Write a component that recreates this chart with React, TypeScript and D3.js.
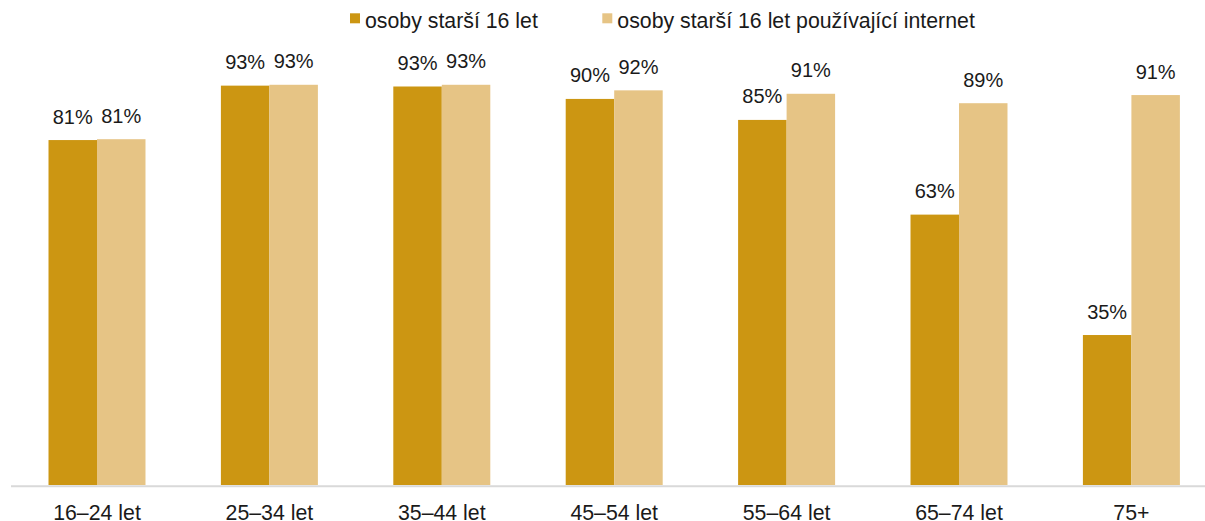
import React from "react";
import * as d3 from "d3";

const categories = ["16–24 let", "25–34 let", "35–44 let", "45–54 let", "55–64 let", "65–74 let", "75+"];
const seriesNames = ["osoby starší 16 let", "osoby starší 16 let používající internet"];
const allPersons = [80.5, 93.2, 93.0, 90.1, 85.2, 63.1, 35.0];
const internetUsers = [80.7, 93.4, 93.4, 92.1, 91.3, 89.1, 91.0];
const labelsAll = ["81%", "93%", "93%", "90%", "85%", "63%", "35%"];
const labelsInternet = ["81%", "93%", "93%", "92%", "91%", "89%", "91%"];
const colors = ["#CC9612", "#E6C485"];

const W = 1205;
const H = 521;
const FONT = "'Liberation Sans', Arial, sans-serif";

export default function App() {
  const x = d3
    .scaleBand<string>()
    .domain(categories)
    .range([10.8, 1217.6])
    .paddingInner(0.4374)
    .paddingOuter(0.2187);
  const xs = d3.scaleBand<number>().domain([0, 1]).range([0, x.bandwidth()]);
  const y = d3.scaleLinear().domain([0, 100]).range([485, 56.5]);
  const series = [allPersons, internetUsers];
  const labels = [labelsAll, labelsInternet];

  const legendItems = [
    { sq: 350, tx: 365 },
    { sq: 602.3, tx: 617.3 },
  ];

  return (
    <svg
      width={W}
      height={H}
      style={{ position: "absolute", left: 0, top: 0, background: "#fff" }}
      fontFamily={FONT}
    >
      {legendItems.map((l, i) => (
        <g key={i}>
          <rect x={l.sq} y={13.3} width={10} height={10} fill={colors[i]} />
          <text x={l.tx} y={28.3} fontSize={21.3} fill="#1a1a1a">
            {seriesNames[i]}
          </text>
        </g>
      ))}
      {categories.map((c, ci) => (
        <g key={c}>
          {series.map((s, si) => {
            const bx = (x(c) as number) + (xs(si) as number);
            const top = y(s[ci]);
            return (
              <g key={si}>
                <rect x={bx} y={top} width={xs.bandwidth()} height={y(0) - top} fill={colors[si]} />
                <text
                  x={bx + xs.bandwidth() / 2}
                  y={top - 16.5}
                  fontSize={20}
                  textAnchor="middle"
                  fill="#1a1a1a"
                >
                  {labels[si][ci]}
                </text>
              </g>
            );
          })}
          <text
            x={(x(c) as number) + x.bandwidth() / 2}
            y={520}
            fontSize={21.3}
            textAnchor="middle"
            fill="#1a1a1a"
          >
            {c}
          </text>
        </g>
      ))}
      <line x1={11} x2={W} y1={486.3} y2={486.3} stroke="#D9D9D9" strokeWidth={2} />
    </svg>
  );
}
